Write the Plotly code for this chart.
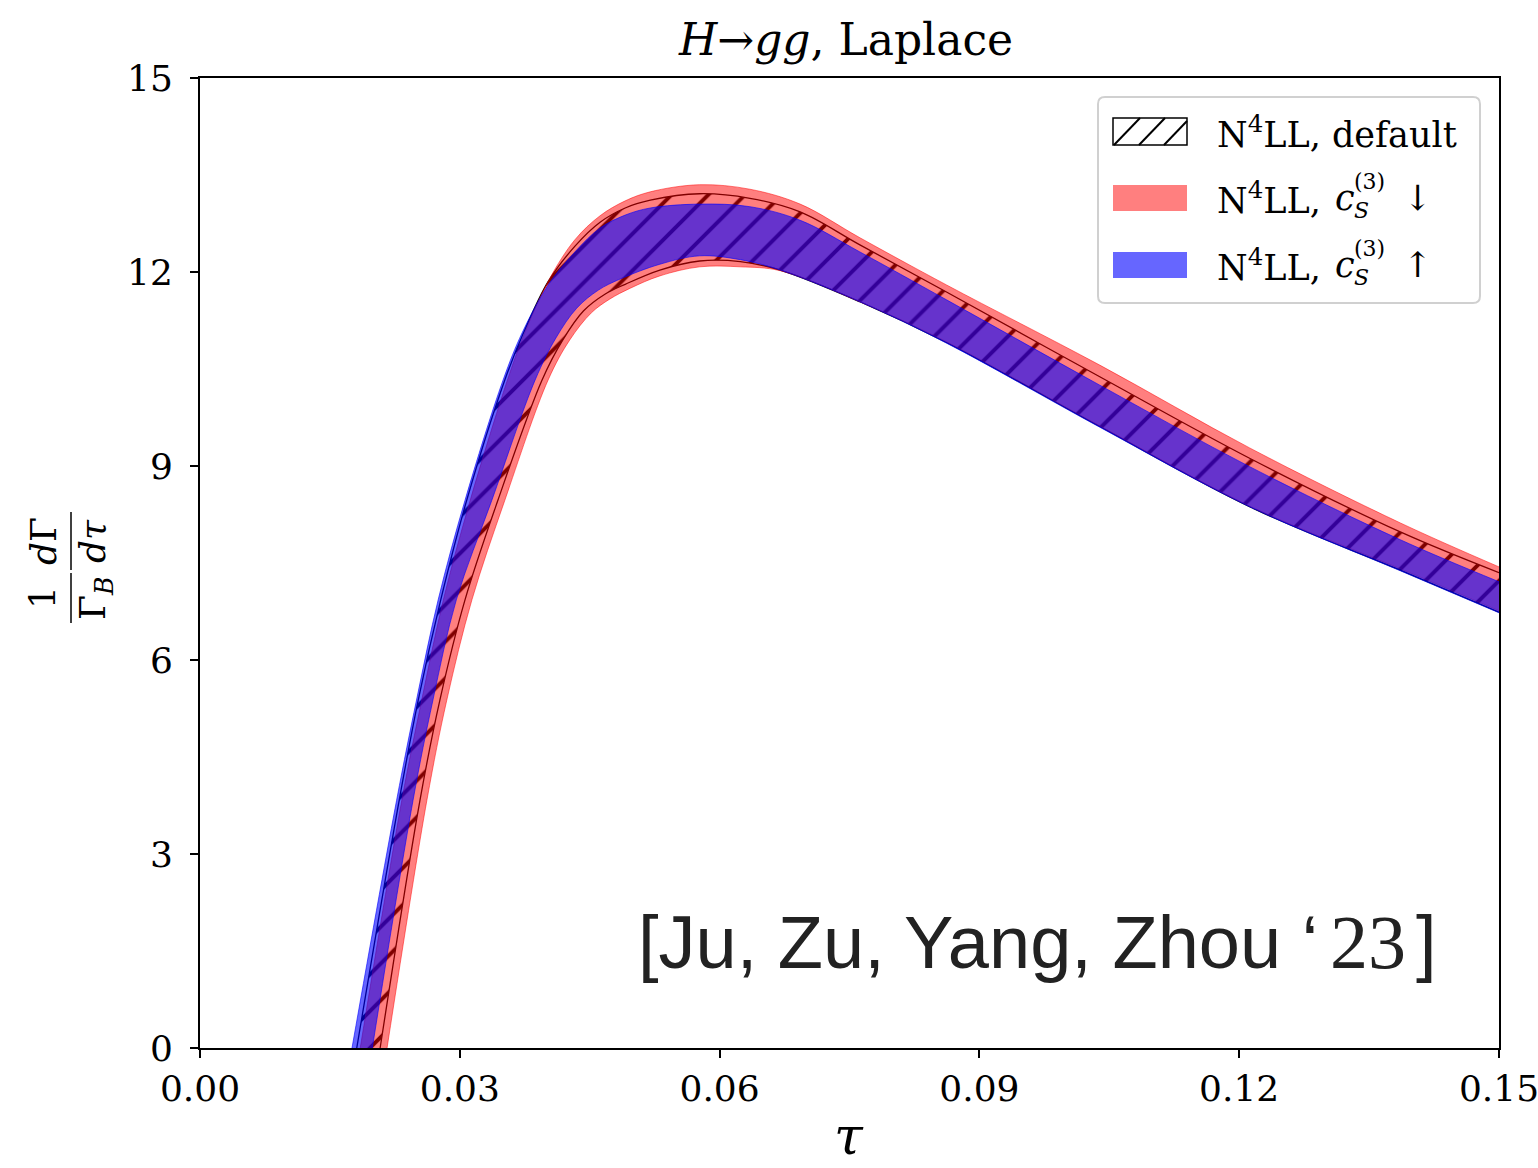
import plotly.graph_objects as go

# ---- data (tau, 1/Gamma_B dGamma/dtau) ----
# upper (left / top) and lower (right / bottom) edges of each band
tau_def_hi = [0.0181, 0.0230, 0.0252, 0.0278, 0.0308, 0.0352, 0.0373, 0.0402, 0.0433, 0.0462, 0.0491, 0.0520, 0.0577, 0.0635, 0.0693, 0.0762, 0.0862, 0.1039, 0.1212, 0.1386, 0.1500]
val_def_hi = [0.00, 3.83, 5.38, 6.93, 8.47, 10.33, 11.04, 11.85, 12.40, 12.77, 12.99, 13.11, 13.21, 13.14, 12.93, 12.42, 11.69, 10.38, 9.12, 7.98, 7.35]
tau_def_lo = [0.0208, 0.0254, 0.0277, 0.0306, 0.0344, 0.0395, 0.0419, 0.0443, 0.0468, 0.0491, 0.0531, 0.0577, 0.0624, 0.0670, 0.0762, 0.0862, 0.1039, 0.1212, 0.1386, 0.1500]
val_def_lo = [0.00, 3.83, 5.38, 6.93, 8.47, 10.33, 10.95, 11.40, 11.66, 11.81, 12.03, 12.17, 12.16, 12.03, 11.54, 10.91, 9.61, 8.37, 7.39, 6.74]

tau_red_hi = [0.0185, 0.0233, 0.0256, 0.0281, 0.0312, 0.0355, 0.0374, 0.0403, 0.0433, 0.0462, 0.0491, 0.0520, 0.0577, 0.0635, 0.0693, 0.0762, 0.0862, 0.1039, 0.1212, 0.1386, 0.1500]
val_red_hi = [0.00, 3.83, 5.38, 6.93, 8.47, 10.33, 11.03, 11.88, 12.50, 12.87, 13.10, 13.24, 13.35, 13.28, 13.05, 12.53, 11.80, 10.56, 9.28, 8.12, 7.44]
tau_red_lo = [0.0216, 0.0262, 0.0285, 0.0314, 0.0352, 0.0402, 0.0427, 0.0452, 0.0473, 0.0497, 0.0531, 0.0577, 0.0624, 0.0670, 0.0762, 0.0862, 0.1039, 0.1212, 0.1386, 0.1500]
val_red_lo = [0.00, 3.83, 5.38, 6.93, 8.47, 10.33, 10.95, 11.37, 11.58, 11.75, 11.94, 12.08, 12.08, 12.02, 11.54, 10.92, 9.62, 8.38, 7.41, 6.76]

tau_blue_hi = [0.01755, 0.0227, 0.0250, 0.0275, 0.0306, 0.0350, 0.0372, 0.0402, 0.0433, 0.0462, 0.0491, 0.0520, 0.0577, 0.0635, 0.0693, 0.0762, 0.0862, 0.1039, 0.1212, 0.1386, 0.1500]
val_blue_hi = [0.00, 3.83, 5.38, 6.93, 8.47, 10.33, 11.06, 11.80, 12.31, 12.68, 12.88, 12.99, 13.05, 13.01, 12.80, 12.31, 11.57, 10.25, 8.99, 7.86, 7.21]
tau_blue_lo = [0.0199, 0.0246, 0.0269, 0.0296, 0.0337, 0.0387, 0.0411, 0.0435, 0.0460, 0.0485, 0.0531, 0.0577, 0.0624, 0.0670, 0.0762, 0.0862, 0.1039, 0.1212, 0.1386, 0.1500]
val_blue_lo = [0.00, 3.83, 5.38, 6.93, 8.47, 10.33, 10.98, 11.44, 11.72, 11.89, 12.12, 12.25, 12.19, 12.03, 11.54, 10.90, 9.60, 8.37, 7.38, 6.73]

x_ticks = [0.00, 0.03, 0.06, 0.09, 0.12, 0.15]
x_ticktext = ["0.00", "0.03", "0.06", "0.09", "0.12", "0.15"]
y_ticks = [0, 3, 6, 9, 12, 15]

W, H = 1538, 1168
L, R, T, B = 200, 39, 78, 120
PW, PH = W - L - R, H - T - B


def px(xp):
    return (xp - L) / PW


def py(yp):
    return (H - B - yp) / PH


FONT = "DejaVu Serif"
SM = 1.0
fig = go.Figure()


def add_band(t_hi, v_hi, t_lo, v_lo, line_color, line_width, fillcolor, pattern=None):
    fig.add_trace(go.Scatter(
        x=t_lo, y=v_lo, mode="lines", showlegend=False, hoverinfo="skip",
        line=dict(color=line_color, width=line_width, shape="spline", smoothing=SM)))
    kw = dict(fillpattern=pattern) if pattern else {}
    fig.add_trace(go.Scatter(
        x=t_hi, y=v_hi, mode="lines", showlegend=False, fill="tonexty",
        fillcolor=fillcolor, hoverinfo="skip",
        line=dict(color=line_color, width=line_width, shape="spline", smoothing=SM), **kw))


add_band(tau_def_hi, val_def_hi, tau_def_lo, val_def_lo, "black", 1.3, "rgba(0,0,0,0)",
         pattern=dict(shape="/", fgcolor="black", bgcolor="rgba(255,255,255,0)",
                      size=26, solidity=0.15, fillmode="replace"))
add_band(tau_red_hi, val_red_hi, tau_red_lo, val_red_lo, "rgba(255,0,0,0.5)", 1, "rgba(255,0,0,0.5)")
add_band(tau_blue_hi, val_blue_hi, tau_blue_lo, val_blue_lo, "rgba(0,0,255,0.6)", 1, "rgba(0,0,255,0.6)")

axis_common = dict(showline=True, linecolor="black", linewidth=2, mirror=True,
                   ticks="outside", ticklen=8, tickwidth=1.5, tickcolor="black",
                   showgrid=False, zeroline=False, ticklabeloverflow="allow",
                   tickfont=dict(family=FONT, size=36, color="black"))

fig.update_xaxes(range=[0, 0.15], tickvals=x_ticks, ticktext=x_ticktext,
                 ticklabelstandoff=0, **axis_common)
fig.update_yaxes(range=[0, 15], tickvals=y_ticks, ticklabelstandoff=10, **axis_common)


def ann(text, x, y, size, family=FONT, xanchor="center", yanchor="middle", angle=0,
        color="black", align="center"):
    return dict(text=text, x=px(x), y=py(y), xref="paper", yref="paper", textangle=angle,
                showarrow=False, font=dict(family=family, size=size, color=color),
                xanchor=xanchor, yanchor=yanchor, align=align)


annotations = [
    # x axis title
    ann("<i>\u03c4</i>", 849, 1168, 52, yanchor="bottom"),
    # y axis title as a fraction
    ann("1", 42, 598, 36, angle=-90),
    ann("<i>d</i>\u0393", 43, 541, 36, angle=-90),
    ann("\u0393<sub><i>B</i></sub>", 95, 598, 36, angle=-90),
    ann("<i>d\u03c4</i>", 92, 541, 36, angle=-90),
    # citation
    ann("[Ju, Zu, Yang, Zhou \u2018", 636, 986, 74, family="Liberation Sans",
        xanchor="left", yanchor="bottom", color="#222222"),
    ann("23", 1328, 986, 76, family="Liberation Serif",
        xanchor="left", yanchor="bottom", color="#222222"),
    ann("]", 1414, 986, 74, family="Liberation Sans",
        xanchor="left", yanchor="bottom", color="#222222"),
]

# custom legend (matching matplotlib's large patches)
legend_rows = [132, 198, 265]
annotations.append(ann("N<sup>4</sup>LL, default", 1215, legend_rows[0], 35, xanchor="left"))
for r, arrow in zip(legend_rows[1:], ["\u2193", "\u2191"]):
    annotations.append(ann("N<sup>4</sup>LL,", 1215, r, 35, xanchor="left"))
    annotations.append(ann("<i>c</i>", 1345, r, 35))
    annotations.append(ann("(3)<br><i>S</i>", 1352, r - 2, 22, xanchor="left", align="left"))
    annotations.append(ann(arrow, 1417, r, 35))


def rounded_rect(x0, y0, x1, y1, rad):
    def P(x, y):
        return f"{px(x):.5f},{py(y):.5f}"
    return (f"M {P(x0 + rad, y0)} L {P(x1 - rad, y0)} Q {P(x1, y0)} {P(x1, y0 + rad)} "
            f"L {P(x1, y1 - rad)} Q {P(x1, y1)} {P(x1 - rad, y1)} "
            f"L {P(x0 + rad, y1)} Q {P(x0, y1)} {P(x0, y1 - rad)} "
            f"L {P(x0, y0 + rad)} Q {P(x0, y0)} {P(x0 + rad, y0)} Z")


shapes = [
    # fraction bars of the y title
    dict(type="line", xref="paper", yref="paper", x0=px(71), x1=px(71), y0=py(573), y1=py(623),
         line=dict(color="black", width=1.5)),
    dict(type="line", xref="paper", yref="paper", x0=px(71), x1=px(71), y0=py(512), y1=py(570),
         line=dict(color="black", width=1.5)),
    # legend frame
    dict(type="path", xref="paper", yref="paper", path=rounded_rect(1098, 97, 1480, 303, 7),
         line=dict(color="#d0d0d0", width=2), fillcolor="rgba(255,255,255,0.8)"),
    # legend patches
    dict(type="rect", xref="paper", yref="paper", x0=px(1113), x1=px(1187), y0=py(145), y1=py(118),
         line=dict(color="black", width=1.5), fillcolor="white"),
    dict(type="rect", xref="paper", yref="paper", x0=px(1113), x1=px(1187),
         y0=py(legend_rows[1] + 13), y1=py(legend_rows[1] - 13),
         line=dict(width=0), fillcolor="rgba(255,0,0,0.5)"),
    dict(type="rect", xref="paper", yref="paper", x0=px(1113), x1=px(1187),
         y0=py(legend_rows[2] + 13), y1=py(legend_rows[2] - 13),
         line=dict(width=0), fillcolor="rgba(0,0,255,0.6)"),
]
for x0 in [1113, 1138, 1163]:
    x1 = min(x0 + 27, 1187)
    y_end = 145 - (x1 - x0)
    shapes.append(dict(type="line", xref="paper", yref="paper", x0=px(x0 + 1), x1=px(x1),
                       y0=py(145), y1=py(y_end), line=dict(color="black", width=2)))

fig.update_layout(
    width=W, height=H,
    margin=dict(l=L, r=R, t=T, b=B, autoexpand=False),
    paper_bgcolor="white", plot_bgcolor="white",
    title=dict(text="<i>H</i>\u2192<i>gg</i>, Laplace", x=px(846), xref="paper",
               y=1 - 40 / H, yref="container", xanchor="center", yanchor="middle",
               font=dict(family=FONT, size=44, color="black")),
    annotations=annotations,
    shapes=shapes,
    showlegend=False,
)

fig.write_html("out.html")
